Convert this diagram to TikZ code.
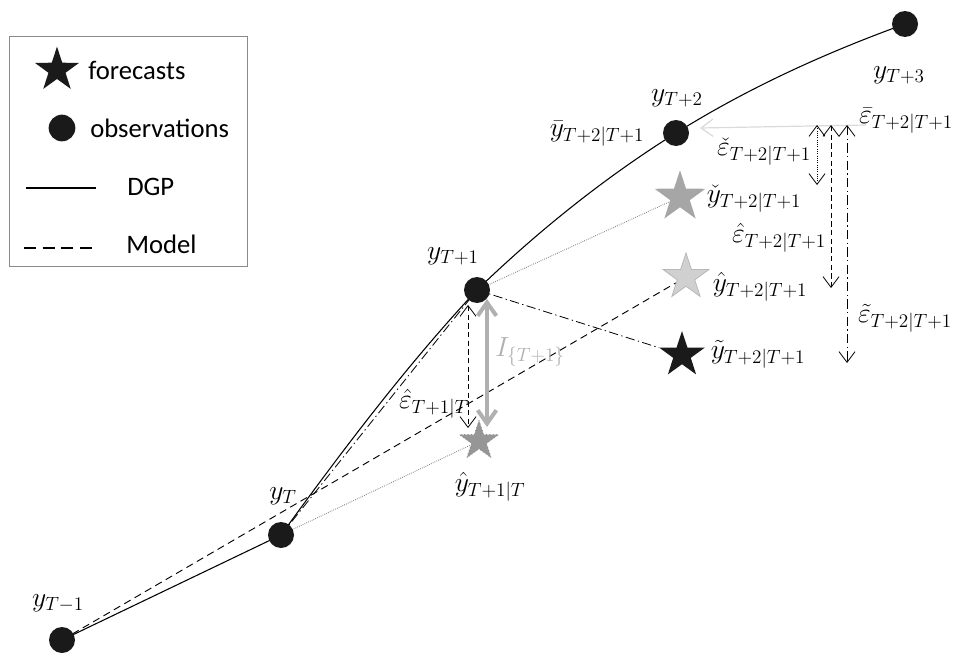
\documentclass[tikz,border=0pt]{standalone}
\usepackage{fontspec}
\newfontfamily\legendfont{Carlito}
\usetikzlibrary{shapes.geometric,arrows.meta,backgrounds}
\definecolor{nearblack}{HTML}{1A1A1A}
\definecolor{midgray}{HTML}{A6A6A6}
\definecolor{lightgray}{HTML}{D0D0D0}
\definecolor{lightedge}{HTML}{B8B8B8}
\definecolor{darkgray}{HTML}{8A8A8A}
\definecolor{igray}{HTML}{B0B0B0}
\definecolor{bargray}{HTML}{DADADA}
\begin{document}
\begin{tikzpicture}[x=0.75pt,y=-0.75pt,
  obs/.style={circle,fill=nearblack,inner sep=0pt,minimum size=19.5pt},
  starnode/.style={star,star points=5,star point ratio=2.6,inner sep=0pt},
  lab/.style={font=\fontsize{20.5}{24}\selectfont,inner sep=0pt},
  leg/.style={font=\legendfont\fontsize{20}{24}\selectfont,anchor=west,inner sep=0pt},
  dgp/.style={line width=0.8pt},
  model/.style={line width=0.7pt,dash pattern=on 5.5pt off 3.5pt},
  dashdot/.style={line width=0.6pt,dash pattern=on 7pt off 2.5pt on 1pt off 2.5pt},
  dotline/.style={line width=0.7pt,dash pattern=on 0.6pt off 0.9pt,color=darkgray},
  errarrow/.style={line width=0.6pt,{Straight Barb[length=8pt,width=12pt]}-{Straight Barb[length=8pt,width=12pt]}},
]
\useasboundingbox (0,0) rectangle (954,653);

% legend
\node[draw=darkgray,line width=0.6pt,minimum width=178.5pt,minimum height=173pt,inner sep=0pt] (legbox) at (128,151.5) {};
\node[starnode,fill=nearblack,minimum size=35pt] (legstar) at (57,70) {};
\node[leg] (legf) at (88,70) {forecasts};
\node[obs,minimum size=20pt] (legobs) at (62,128) {};
\node[leg] (lego) at (90,128) {observations};
\coordinate (dgpa) at (26,188);
\coordinate (dgpb) at (96,188);
\draw[dgp] (dgpa) -- (dgpb);
\node[leg] (legd) at (127,187) {DGP};
\coordinate (moda) at (24,248);
\coordinate (modb) at (95,248);
\draw[model,line width=0.9pt,dash pattern=on 9pt off 5pt] (moda) -- (modb);
\node[leg] (legm) at (126,244) {Model};

% observations
\node[obs] (ym1) at (62,640) {};
\node[obs] (y0) at (281,535) {};
\node[obs] (y1) at (477,290) {};
\node[obs] (y2) at (676,133) {};
\node[obs] (y3) at (905,24) {};

% forecasts
\node[starnode,fill=darkgray!90,draw=darkgray,dotted,line width=0.6pt,minimum size=31pt] (fhat1) at (479,441) {};
\node[starnode,fill=midgray,minimum size=40pt] (fcheck) at (680,197) {};
\node[starnode,fill=lightgray,draw=lightedge,line width=0.6pt,minimum size=36pt] (fhat2) at (686,277) {};
\node[starnode,fill=nearblack,minimum size=36pt] (ftilde) at (682,355) {};

\begin{scope}[on background layer]
\draw[dgp] (ym1.center) -- (y0.center)
  .. controls (342,451) and (406,366) .. (y1.center)
  .. controls (537,232) and (604,178) .. (y2.center)
  .. controls (748,88) and (825,53) .. (y3.center);
\draw[model] (ym1.center) -- (fhat2);
\draw[dashdot] (y0.center) -- (y1.center);
\draw[dashdot] (y1.center) -- (ftilde);
\draw[dotline] (y0.center) -- (fhat1);
\draw[dotline] (y1.center) -- (fcheck);
\end{scope}

% error arrows at T+1
\coordinate (e1top) at (468,305);
\coordinate (e1bot) at (468,428);
\draw[errarrow,dash pattern=on 4pt off 2.5pt] (e1top) -- (e1bot);
\coordinate (itop) at (487,299);
\coordinate (ibot) at (487,427);
\draw[line width=3pt,color=igray,{Straight Barb[length=10pt,width=14pt]}-{Straight Barb[length=10pt,width=14pt]}] (itop) -- (ibot);

% error arrows at T+2
\coordinate (ebarstart) at (866,125);
\coordinate (ebarend) at (700,128);
\draw[line width=0.9pt,color=bargray,-{Straight Barb[length=9pt,width=13pt]}] (ebarstart) -- (ebarend);
\coordinate (echtop) at (817,125);
\coordinate (echbot) at (817,185);
\draw[errarrow,dash pattern=on 0.7pt off 1pt] (echtop) -- (echbot);
\coordinate (ehttop) at (831,125);
\coordinate (ehtbot) at (831,288);
\draw[errarrow,dash pattern=on 4pt off 2.5pt] (ehttop) -- (ehtbot);
\coordinate (etitop) at (847,125);
\coordinate (etibot) at (847,363);
\draw[errarrow,dash pattern=on 7pt off 2.5pt on 1pt off 2.5pt] (etitop) -- (etibot);

% labels
\node[lab] (lym1) at (58,603) {$y_{T-1}$};
\node[lab] (ly0) at (283,496) {$y_{T}$};
\node[lab] (ly1) at (453,256) {$y_{T+1}$};
\node[lab] (ly2) at (677,98) {$y_{T+2}$};
\node[lab] (ly3) at (899,75) {$y_{T+3}$};
\node[lab] (lybar) at (597,134) {$\bar{y}_{T+2|T+1}$};
\node[lab] (lebar) at (906,121) {$\bar{\varepsilon}_{T+2|T+1}$};
\node[lab] (lech) at (764,152) {$\check{\varepsilon}_{T+2|T+1}$};
\node[lab] (lych) at (754,199) {$\check{y}_{T+2|T+1}$};
\node[lab] (leht) at (779,238) {$\hat{\varepsilon}_{T+2|T+1}$};
\node[lab] (lyht) at (760,287) {$\hat{y}_{T+2|T+1}$};
\node[lab] (leti) at (905,318) {$\tilde{\varepsilon}_{T+2|T+1}$};
\node[lab] (lyti) at (758,354) {$\tilde{y}_{T+2|T+1}$};
\node[lab,text=igray] (lI) at (530,352) {$I_{\{T+1\}}$};
\node[lab] (le1) at (434,404) {$\hat{\varepsilon}_{T+1|T}$};
\node[lab] (ly1h) at (490,487) {$\hat{y}_{T+1|T}$};
\end{tikzpicture}
\end{document}
